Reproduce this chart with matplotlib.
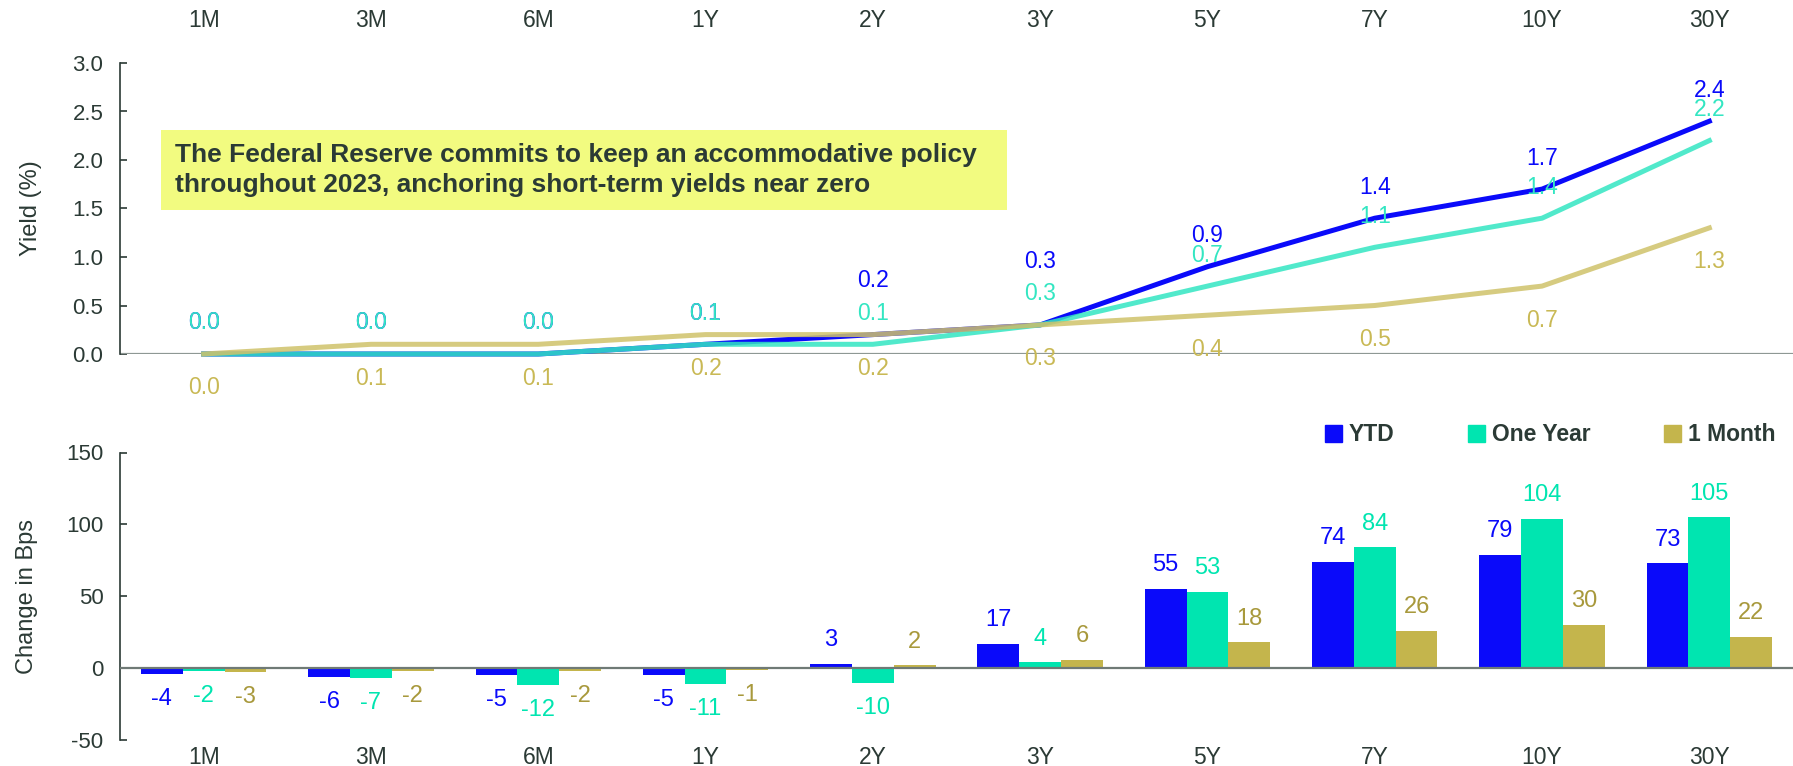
import matplotlib
matplotlib.use("Agg")
import matplotlib.pyplot as plt
from matplotlib.patches import Patch, Rectangle
import numpy as np

plt.rcParams["font.family"] = ["Liberation Sans", "DejaVu Sans"]
plt.rcParams["axes.unicode_minus"] = False

TEXT = "#2B3A35"
BLUE = "#0A0AFA"
TEAL_LINE = "#33E6C2"
TEAL_BAR = "#00E5B0"
KHAKI_LINE = "#CFC26A"
KHAKI_BAR = "#C4B54C"
KHAKI_TXT = "#A8993C"

tenors = ["1M", "3M", "6M", "1Y", "2Y", "3Y", "5Y", "7Y", "10Y", "30Y"]

# yield curves (%)
ytd_yield = [0.0, 0.0, 0.0, 0.1, 0.2, 0.3, 0.9, 1.4, 1.7, 2.4]
year_yield = [0.0, 0.0, 0.0, 0.1, 0.1, 0.3, 0.7, 1.1, 1.4, 2.2]
month_yield = [0.0, 0.1, 0.1, 0.2, 0.2, 0.3, 0.4, 0.5, 0.7, 1.3]

# change in bps
ytd_chg = [-4, -6, -5, -5, 3, 17, 55, 74, 79, 73]
year_chg = [-2, -7, -12, -11, -10, 4, 53, 84, 104, 105]
month_chg = [-3, -2, -2, -1, 2, 6, 18, 26, 30, 22]

# label lift above the YTD line, pushed up where labels would collide
ytd_lbl_dy = [0.32, 0.32, 0.32, 0.32, 0.56, 0.65, 0.32, 0.32, 0.32, 0.32]

note = ("The Federal Reserve commits to keep an accommodative policy\n"
        "throughout 2023, anchoring short-term yields near zero")

W, H = 1793, 766
fig = plt.figure(figsize=(W / 100, H / 100), dpi=100)
ax1 = fig.add_axes([120 / W, 1 - 354 / H, 1673 / W, 291 / H])
ax2 = fig.add_axes([120 / W, 1 - 740 / H, 1673 / W, 287.5 / H])

x = np.arange(len(tenors))

# --- yield curves ---
ax1.plot(x, ytd_yield, color=BLUE, lw=3.6, clip_on=False, zorder=3)
ax1.plot(x, year_yield, color=TEAL_LINE, lw=3.6, alpha=0.85, clip_on=False, zorder=4)
ax1.plot(x, month_yield, color=KHAKI_LINE, lw=3.6, alpha=0.85, clip_on=False, zorder=5)

for i in x:
    ax1.text(i, ytd_yield[i] + ytd_lbl_dy[i], f"{ytd_yield[i]:.1f}", color=BLUE,
             ha="center", va="center", fontsize=16.5, zorder=6)
for i in x:
    ax1.text(i, year_yield[i] + 0.32, f"{year_yield[i]:.1f}", color=TEAL_LINE,
             ha="center", va="center", fontsize=16.5, zorder=7)
    ax1.text(i, month_yield[i] - 0.35, f"{month_yield[i]:.1f}", color="#C9B955",
             ha="center", va="center", fontsize=16.5, zorder=7, clip_on=False)

ax1.set_xlim(-0.5, 9.5)
ax1.set_ylim(0, 3.0)
ax1.set_yticks(np.arange(0, 3.01, 0.5))
ax1.set_yticklabels([f"{v:.1f}" for v in np.arange(0, 3.01, 0.5)])
ax1.set_ylabel("Yield (%)", fontsize=17, color=TEXT, labelpad=22)
ax1.xaxis.tick_top()
ax1.set_xticks(x)
ax1.set_xticklabels(tenors)
ax1.tick_params(axis="x", length=0, pad=22, labelsize=16.5, labelcolor=TEXT)
ax1.tick_params(axis="y", direction="in", length=5, width=1.2, color=TEXT,
                labelsize=16, labelcolor=TEXT, pad=12)
for s in ("top", "right", "bottom"):
    ax1.spines[s].set_visible(False)
ax1.spines["left"].set_color(TEXT)
ax1.spines["left"].set_linewidth(1.2)
ax1.axhline(0, color="#8E9894", lw=1.6, zorder=2)

ax1.add_patch(Rectangle((0.0245, 0.495), 0.5055, 0.275, transform=ax1.transAxes,
                        facecolor="#F2FB80", edgecolor="none", zorder=1))
ax1.text(0.033, 0.632, note, transform=ax1.transAxes, fontsize=19,
         fontweight="bold", color=TEXT, va="center", ha="left",
         linespacing=1.35, zorder=2)

# --- change in bps ---
bw = 0.25
series = [(ytd_chg, -bw, BLUE, BLUE), (year_chg, 0, TEAL_BAR, TEAL_BAR),
          (month_chg, bw, KHAKI_BAR, KHAKI_TXT)]
for vals, off, col, tcol in series:
    ax2.bar(x + off, vals, width=bw, color=col, zorder=3)
    for i, v in enumerate(vals):
        dy = 17 if v >= 0 else -18
        ax2.annotate(f"{v}", (x[i] + off, v), xytext=(0, dy),
                     textcoords="offset points", ha="center", va="center",
                     fontsize=17, color=tcol, zorder=4)

ax2.set_xlim(-0.5, 9.5)
ax2.set_ylim(-50, 150)
ax2.set_yticks([-50, 0, 50, 100, 150])
ax2.set_ylabel("Change in Bps", fontsize=17, color=TEXT, labelpad=20)
ax2.set_xticks(x)
ax2.set_xticklabels(tenors)
ax2.tick_params(axis="x", length=0, pad=4, labelsize=16.5, labelcolor=TEXT)
ax2.tick_params(axis="y", direction="in", length=5, width=1.2, color=TEXT,
                labelsize=16, labelcolor=TEXT, pad=12)
for s in ("top", "right", "bottom"):
    ax2.spines[s].set_visible(False)
ax2.spines["left"].set_color(TEXT)
ax2.spines["left"].set_linewidth(1.2)
ax2.axhline(0, color="#6F7A76", lw=1.6, zorder=5)

handles = [Patch(color=BLUE, label="YTD"), Patch(color=TEAL_BAR, label="One Year"),
           Patch(color=KHAKI_BAR, label="1 Month")]
leg = ax2.legend(handles=handles, ncol=3, loc="lower right",
                 bbox_to_anchor=(0.995, 0.99), frameon=False,
                 handlelength=0.75, handleheight=0.75, handletextpad=0.3,
                 columnspacing=3.2, borderaxespad=0,
                 prop={"size": 16.5, "weight": "bold"})
for t in leg.get_texts():
    t.set_color(TEXT)

fig.savefig("out.png", dpi=100)
